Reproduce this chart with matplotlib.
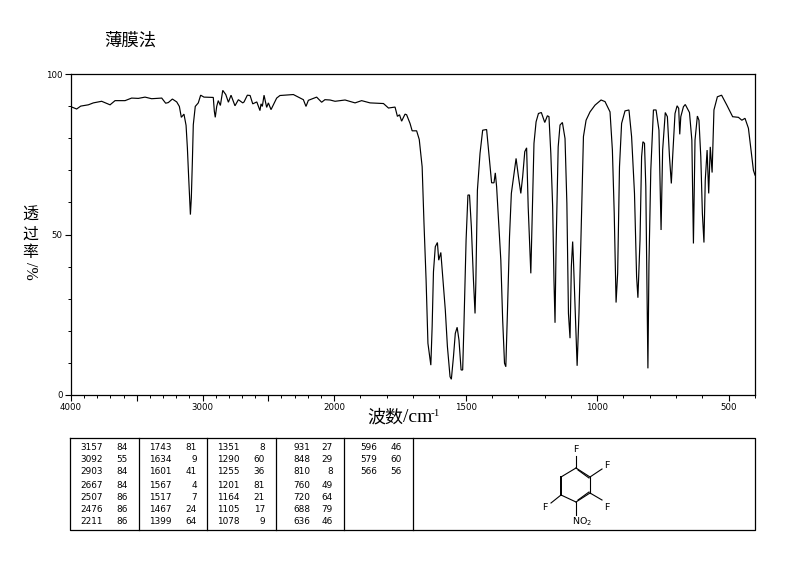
import numpy as np
import matplotlib
matplotlib.use("Agg")
import matplotlib.pyplot as plt

plt.rcParams['font.family'] = ['Liberation Serif', 'Noto Sans CJK SC', 'DejaVu Sans']
plt.rcParams['mathtext.fontset'] = 'dejavusans'
plt.rcParams['mathtext.default'] = 'regular'

title = "薄膜法"
wavenumber = [4000,3957,3926,3868,3830,3767,3703,3665,3589,3539,3488,3437,3387,3310,3280,3260,3229,3196,3176,3161,3141,3125,3115,3105,3095,3092,3085,3077,3070,3055,3032,3014,2989,2918,2910,2903,2892,2880,2864,2846,2823,2803,2783,2753,2727,2694,2684,2659,2638,2618,2587,2563,2555,2545,2532,2512,2499,2479,2436,2411,2309,2271,2233,2213,2195,2132,2094,2069,2030,1996,1958,1920,1895,1863,1812,1793,1768,1759,1751,1743,1730,1724,1711,1703,1686,1676,1665,1658,1650,1643,1632,1627,1622,1615,1607,1602,1594,1587,1577,1569,1559,1554,1546,1539,1532,1525,1517,1511,1506,1498,1491,1485,1478,1470,1464,1461,1455,1445,1435,1420,1409,1401,1392,1387,1382,1374,1366,1359,1352,1347,1341,1333,1326,1316,1308,1299,1290,1283,1275,1268,1262,1252,1247,1240,1232,1223,1212,1199,1189,1183,1176,1169,1164,1160,1156,1148,1141,1132,1122,1115,1109,1103,1098,1093,1090,1084,1076,1069,1062,1052,1042,1027,1008,985,970,951,942,935,928,922,915,907,894,879,869,858,850,845,837,831,826,820,815,809,807,803,796,786,776,765,761,757,751,741,733,725,718,713,704,696,690,686,682,672,665,649,640,634,628,619,613,606,600,594,589,582,576,570,563,556,543,527,507,485,463,450,438,425,412,406,400]
transmittance = [89.8,89.1,90.0,90.4,91.0,91.5,90.4,91.7,91.7,92.5,92.4,92.8,92.3,92.5,90.9,91.1,92.2,91.3,89.9,86.5,87.5,84.0,77.0,67.6,59.3,56.2,61.4,72.8,84.2,89.9,91.0,93.4,92.8,92.7,88.4,86.5,89.9,91.7,90.2,94.9,93.6,91.2,93.4,90.1,92.0,91.0,91.3,93.4,93.3,90.7,91.3,88.6,90.7,89.9,93.4,89.6,91.0,88.9,92.5,93.3,93.6,92.8,92.0,89.9,91.8,92.8,91.2,92.0,91.9,91.5,91.9,91.0,91.7,91.0,90.8,89.4,89.7,86.8,87.3,85.3,87.5,87.3,84.6,82.3,82.3,79.6,71.1,53.5,35.8,16.1,9.3,21.3,38.4,46.2,47.5,42.0,44.4,36.9,26.5,15.1,5.7,4.9,11.9,19.2,21.1,17.1,7.8,7.8,22.3,48.3,62.3,62.3,52.4,35.8,25.4,34.8,63.8,75.3,82.5,82.7,73.2,66.1,66.1,69.2,64.9,53.5,42.0,23.4,9.9,8.8,25.4,49.3,62.8,69.0,73.7,68.0,62.8,68.0,75.8,77.0,58.6,37.9,54.5,78.4,85.1,87.7,88.0,84.9,87.0,86.7,75.3,58.7,35.8,22.5,46.2,77.3,84.1,84.9,79.9,59.7,25.4,17.7,40.0,47.8,42.0,27.5,9.1,25.4,47.0,80.5,85.6,88.2,90.3,91.9,91.4,88.2,76.3,56.6,28.8,37.9,71.1,84.6,88.5,88.8,80.5,62.8,36.9,30.3,48.3,74.2,78.9,78.4,64.9,21.3,8.3,41.0,70.1,88.8,88.8,82.5,67.0,51.4,76.3,88.0,86.7,74.2,65.9,74.2,87.7,90.1,89.3,81.2,86.7,89.8,90.5,88.0,79.4,47.2,79.4,86.9,85.6,74.2,56.6,47.5,67.0,76.3,62.8,77.3,69.3,88.8,92.9,93.4,90.3,86.7,86.5,85.6,86.2,83.1,74.2,70.0,68.5]

col1_wn = ["3157","3092","2903","2667","2507","2476","2211"]
col1_t = ["84","55","84","84","86","86","86"]
col2_wn = ["1743","1634","1601","1567","1517","1467","1399"]
col2_t = ["81","9","41","4","7","24","64"]
col3_wn = ["1351","1290","1255","1201","1164","1105","1078"]
col3_t = ["8","60","36","81","21","17","9"]
col4_wn = ["931","848","810","760","720","688","636"]
col4_t = ["27","29","8","49","64","79","46"]
col5_wn = ["596","579","566"]
col5_t = ["46","60","56"]

W, H = 794, 567
fig = plt.figure(figsize=(W/100, H/100), dpi=100, facecolor='white')

# the spectrum's wavenumber axis changes scale at 2000 cm-1
def forward(v):
    v = np.asarray(v, dtype=float)
    return np.where(v >= 2000, (v - 2000) / 2000 * 263, (v - 2000) / 1600 * 421)

def inverse(u):
    u = np.asarray(u, dtype=float)
    return np.where(u >= 0, 2000 + u * 2000 / 263, 2000 + u * 1600 / 421)

ax = fig.add_axes([71/W, 1-395/H, (755-71)/W, (395-74)/H])
ax.set_xscale('function', functions=(forward, inverse))
ax.set_xlim(4000, 400)
ax.set_ylim(0, 100)
ax.plot(wavenumber, transmittance, color='black', lw=0.85, solid_joinstyle='miter')
ax.set_xticks([4000, 3500, 3000, 2500, 2000, 1500, 1000, 500])
ax.set_xticklabels(["4000", "", "3000", "", "2000", "1500", "1000", "500"], fontsize=6.2, family='DejaVu Sans')
ax.set_xticks(np.arange(400, 4000, 100), minor=True)
ax.set_yticks([0, 50, 100])
ax.set_yticklabels(["0", "50", "100"], fontsize=6.2, family='DejaVu Sans')
ax.set_yticks(np.arange(0, 101, 10), minor=True)
ax.tick_params(axis='both', which='major', length=4, width=0.8, pad=2)
ax.tick_params(axis='both', which='minor', length=2.5, width=0.7)
for s in ax.spines.values():
    s.set_linewidth(0.9)

ov = fig.add_axes([0, 0, 1, 1], facecolor='none')
ov.set_xlim(0, W)
ov.set_ylim(H, 0)
ov.axis('off')

ov.text(130, 41, title, fontsize=12.5, ha='center', va='center')
for ch, y in zip("透过率", [216, 235, 253]):
    ov.text(30, y, ch, fontsize=11.5, ha='center', va='center')
ov.text(30, 271, "/%", fontsize=11.5, ha='center', va='center', rotation=-90)
ov.text(385, 418, "波数", fontsize=13, ha='center', va='center')
ov.text(403, 418, "/cm", fontsize=14, ha='left', va='center')
ov.text(431, 414, "-1", fontsize=8, ha='left', va='center')

# table frame
ov.plot([70, 755, 755, 70, 70], [438, 438, 530, 530, 438], color='black', lw=0.9)
for x in [139, 207, 276, 344, 413]:
    ov.plot([x, x], [438, 530], color='black', lw=0.9)
rows_y = [448, 460, 472, 485, 497, 509, 522]
columns = [(col1_wn, col1_t, 103, 128), (col2_wn, col2_t, 172, 197), (col3_wn, col3_t, 240, 265),
           (col4_wn, col4_t, 310, 333), (col5_wn, col5_t, 377, 402)]
for wn, t, xw, xt in columns:
    for a, b, y in zip(wn, t, rows_y):
        ov.text(xw, y, a, fontsize=6.4, family='DejaVu Sans', ha='right', va='center')
        ov.text(xt, y, b, fontsize=6.4, family='DejaVu Sans', ha='right', va='center')

# structure
bonds = [((576, 468), (590, 477)), ((590, 477), (590, 493)), ((590, 493), (576, 502)),
         ((576, 502), (561, 495)), ((561, 477), (576, 468)),
         ((578, 470), (589, 478)), ((589, 492), (578, 500)),
         ((576, 468), (576, 456)), ((590, 477), (602, 469)), ((590, 493), (602, 500)),
         ((561, 495), (551, 503)), ((576, 502), (576, 515))]
for (x0, y0), (x1, y1) in bonds:
    ov.plot([x0, x1], [y0, y1], color='black', lw=0.8)
ov.plot([561, 561], [477, 495], color='black', lw=1.4)
for x, y, s in [(576, 449, "F"), (607, 465, "F"), (607, 507, "F"), (545, 507, "F")]:
    ov.text(x, y, s, fontsize=6.8, family='DejaVu Sans', ha='center', va='center')
ov.text(582, 522, "NO$_2$", fontsize=6.8, family='DejaVu Sans', ha='center', va='center')

fig.savefig("out.png", dpi=100, facecolor='white')
